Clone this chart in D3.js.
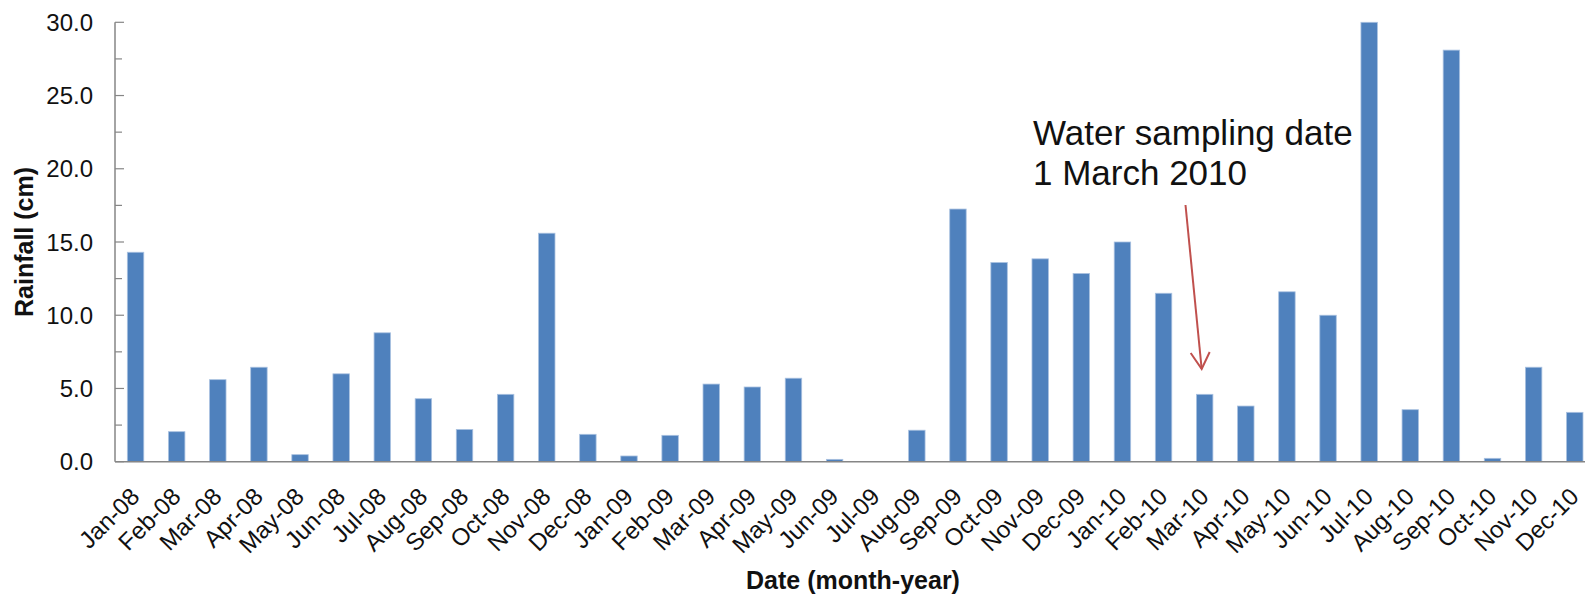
<!DOCTYPE html>
<html>
<head>
<meta charset="utf-8">
<script src="https://cdn.jsdelivr.net/npm/d3@7"></script>
<style>
  html, body { margin: 0; padding: 0; background: #fff; }
  svg { display: block; font-family: "Liberation Sans", Arial, sans-serif; }
</style>
</head>
<body>
<svg id="chart" width="1585" height="595"></svg>
<script>
const months = ["Jan-08","Feb-08","Mar-08","Apr-08","May-08","Jun-08","Jul-08","Aug-08","Sep-08","Oct-08","Nov-08","Dec-08",
                "Jan-09","Feb-09","Mar-09","Apr-09","May-09","Jun-09","Jul-09","Aug-09","Sep-09","Oct-09","Nov-09","Dec-09",
                "Jan-10","Feb-10","Mar-10","Apr-10","May-10","Jun-10","Jul-10","Aug-10","Sep-10","Oct-10","Nov-10","Dec-10"];
const rainfall = [14.3, 2.05, 5.6, 6.45, 0.48, 6.0, 8.8, 4.3, 2.2, 4.6, 15.6, 1.87,
                  0.39, 1.8, 5.3, 5.1, 5.7, 0.16, 0.0, 2.15, 17.25, 13.6, 13.85, 12.85,
                  15.0, 11.5, 4.6, 3.8, 11.6, 10.0, 30.0, 3.55, 28.1, 0.23, 6.45, 3.37];
const yTickValues = [0, 5, 10, 15, 20, 25, 30];
const yMinorTicks = [2.5, 7.5, 12.5, 17.5, 22.5, 27.5];
const annotationLines = ["Water sampling date", "1 March 2010"];
const annotatedMonth = "Mar-10";

const svg = d3.select("#chart");
const plotLeft = 115, plotTop = 22.3, plotBottom = 461.7;
const step = 41.12;

const x = d3.scaleBand()
  .domain(months)
  .range([plotLeft, plotLeft + step * months.length])
  .paddingInner(0.6)
  .paddingOuter(0.3);

const y = d3.scaleLinear().domain([0, 30]).range([plotBottom, plotTop]);

// Bars
svg.append("g").selectAll("rect")
  .data(months)
  .join("rect")
  .attr("x", d => x(d))
  .attr("width", x.bandwidth())
  .attr("y", (d, i) => y(rainfall[i]))
  .attr("height", (d, i) => y(0) - y(rainfall[i]))
  .attr("fill", "#4F81BD")
  .attr("stroke", "#a9c1e0")
  .attr("stroke-width", 0.8);

// Y axis
const axisColor = "#868686";
const yAxis = svg.append("g");
yAxis.append("line")
  .attr("x1", plotLeft).attr("x2", plotLeft)
  .attr("y1", y(30)).attr("y2", y(0))
  .attr("stroke", axisColor).attr("stroke-width", 1.5);
yAxis.selectAll("line.major").data(yTickValues).join("line")
  .attr("class", "major")
  .attr("x1", plotLeft).attr("x2", plotLeft + 9)
  .attr("y1", d => y(d)).attr("y2", d => y(d))
  .attr("stroke", axisColor).attr("stroke-width", 1.2);
yAxis.selectAll("line.minor").data(yMinorTicks).join("line")
  .attr("class", "minor")
  .attr("x1", plotLeft).attr("x2", plotLeft + 7)
  .attr("y1", d => y(d)).attr("y2", d => y(d))
  .attr("stroke", axisColor).attr("stroke-width", 1.2);
yAxis.selectAll("text").data(yTickValues).join("text")
  .attr("x", plotLeft - 22)
  .attr("y", d => y(d))
  .attr("dy", "0.36em")
  .attr("text-anchor", "end")
  .attr("font-size", 24)
  .attr("fill", "#111")
  .text(d => d3.format(".1f")(d));

// X axis line
svg.append("line")
  .attr("x1", plotLeft).attr("x2", 1585)
  .attr("y1", y(0)).attr("y2", y(0))
  .attr("stroke", axisColor).attr("stroke-width", 1.5);

// X tick labels
svg.append("g").selectAll("text")
  .data(months)
  .join("text")
  .attr("transform", d => `translate(${x(d) + x.bandwidth() / 2},${plotBottom + 31}) rotate(-45)`)
  .attr("text-anchor", "end")
  .attr("dy", "0.32em")
  .attr("font-size", 24)
  .attr("fill", "#111")
  .text(d => d);

// Axis titles
svg.append("text")
  .attr("transform", `translate(33,242) rotate(-90)`)
  .attr("text-anchor", "middle")
  .attr("font-size", 25)
  .attr("font-weight", "bold")
  .attr("fill", "#111")
  .text("Rainfall (cm)");

svg.append("text")
  .attr("x", 853)
  .attr("y", 589)
  .attr("text-anchor", "middle")
  .attr("font-size", 25)
  .attr("font-weight", "bold")
  .attr("fill", "#111")
  .text("Date (month-year)");

// Annotation
const ann = svg.append("g");
ann.selectAll("text").data(annotationLines).join("text")
  .attr("x", 1033)
  .attr("y", (d, i) => 145 + i * 40)
  .attr("font-size", 35)
  .attr("fill", "#111")
  .text(d => d);

const ax = x(annotatedMonth) + x.bandwidth() / 2; // bar centre
const tipX = ax - 3, tipY = 369;
const startX = 1185.5, startY = 205;
ann.append("line")
  .attr("x1", startX).attr("y1", startY)
  .attr("x2", tipX).attr("y2", tipY)
  .attr("stroke", "#C0504D").attr("stroke-width", 2);
ann.append("polyline")
  .attr("points", `${tipX - 11},${tipY - 16} ${tipX},${tipY} ${tipX + 8},${tipY - 17}`)
  .attr("fill", "none")
  .attr("stroke", "#C0504D").attr("stroke-width", 2)
  .attr("stroke-linejoin", "miter");
</script>
</body>
</html>
